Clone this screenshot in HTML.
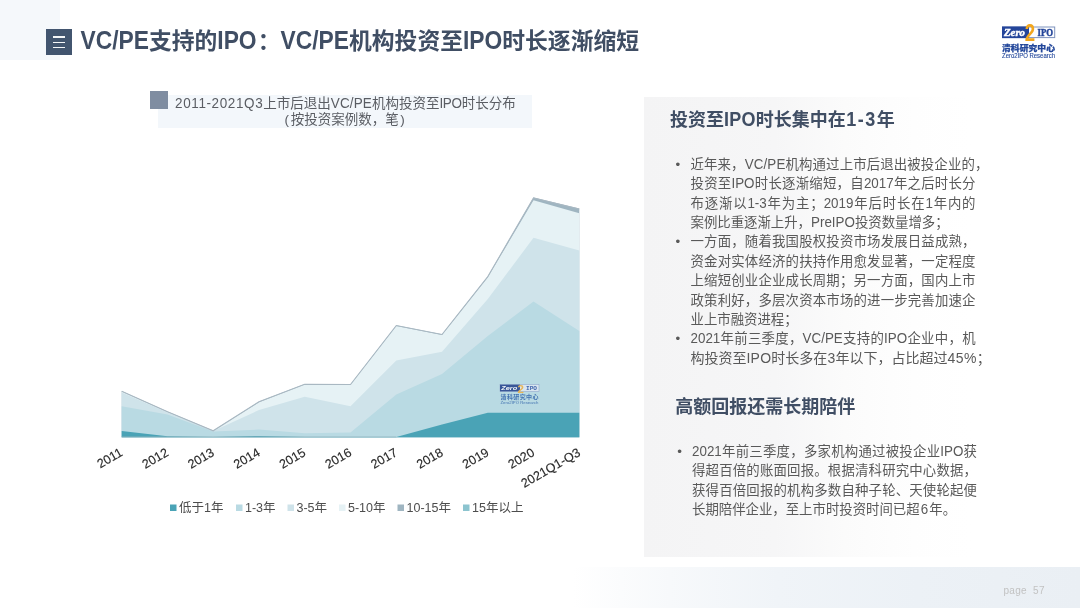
<!DOCTYPE html>
<html lang="zh-CN">
<head>
<meta charset="utf-8">
<title>VC/PE支持的IPO</title>
<style>
html,body{margin:0;padding:0;background:#fff;}
body{width:1080px;height:608px;position:relative;overflow:hidden;font-family:"Liberation Sans","Noto Sans CJK SC",sans-serif;}
.abs{position:absolute;}
#corner{left:0;top:0;width:59.5px;height:59.5px;background:#f5f8fb;}
#ticon{left:45.6px;top:29.2px;width:26px;height:26px;background:#42556f;}
#ticon i{position:absolute;left:7.2px;width:12px;height:1.5px;background:#f4f6f8;}
#title{left:80.5px;top:23.2px;height:36px;line-height:36px;font-size:22.8px;font-weight:bold;color:#404e64;white-space:nowrap;}
#ctband{left:158.3px;top:94.6px;width:373.5px;height:33px;background:#f3f7fb;}
#ctsq{left:150px;top:91px;width:18px;height:17.5px;background:#7f8da1;}
.ct{font-size:13.5px;color:#5a5d63;white-space:nowrap;line-height:18px;height:18px;}
#ct1{left:175.1px;top:94.7px;}
#ct2{left:284.6px;top:110.5px;}
#panel{left:644px;top:97px;width:436px;height:460px;background:linear-gradient(90deg,#f4f4f5 0%,#f6f6f7 30%,#fbfbfb 46%,#fefefe 62%,#ffffff 75%);}
.h2{font-size:18px;font-weight:bold;color:#404e64;white-space:nowrap;line-height:24px;height:24px;left:670px;}
.ln{left:690.5px;width:285px;font-size:13.4px;color:#595959;line-height:19.4px;height:19.4px;white-space:nowrap;text-align:justify;text-align-last:justify;}
.ln.l{text-align:left;text-align-last:left;width:auto;}
.bu{left:675.6px;font-size:13.4px;color:#595959;line-height:19.4px;height:19.4px;}
#footer{left:0;top:567px;width:1080px;height:41px;background:linear-gradient(90deg,#ffffff 0%,#ffffff 53%,#f7f9fb 62%,#f0f4f8 72%,#ecf1f6 85%,#eaeff4 100%);}
#pg{left:1003.5px;top:584.3px;font-size:10px;color:#c2c2c2;line-height:14px;white-space:pre;letter-spacing:0.3px;}
.L{display:inline-block;line-height:1;transform:scaleY(1.09);transform-origin:0 84.65%;}
</style>
</head>
<body>
<div id="corner" class="abs"></div>
<div id="footer" class="abs"></div>
<div id="panel" class="abs"></div>
<svg class="abs" id="logo" style="left:996px;top:20px" width="66" height="44" viewBox="0 0 66 44">
<rect x="6.5" y="7" width="52.2" height="10.6" fill="#fcfdfe" stroke="#7f93bd" stroke-width="1"/>
<rect x="6" y="6.5" width="27" height="11.6" fill="#24459a"/>
<text x="8" y="15.7" font-family="'Liberation Serif',serif" font-size="10" font-weight="bold" font-style="italic" fill="#ffffff" stroke="#ffffff" stroke-width="0.45" textLength="21" lengthAdjust="spacingAndGlyphs">Zero</text>
<text x="28.8" y="21.1" font-family="'Liberation Sans',sans-serif" font-size="23.5" font-weight="bold" fill="#f2a61e" textLength="10.4" lengthAdjust="spacingAndGlyphs">2</text>
<text x="41.6" y="15.5" font-family="'Liberation Serif',serif" font-size="9.6" font-weight="bold" fill="#24459a" stroke="#24459a" stroke-width="0.4" textLength="15.6" lengthAdjust="spacingAndGlyphs">IPO</text>
<text x="6" y="30.6" font-family="'Liberation Sans','Noto Sans CJK SC',sans-serif" font-size="7.7" font-weight="900" fill="#24489b" stroke="#24489b" stroke-width="0.25" textLength="53" lengthAdjust="spacingAndGlyphs">清科研究中心</text>
<text x="6" y="38" font-family="'Liberation Sans',sans-serif" font-size="6.9" fill="#24489b" stroke="#24489b" stroke-width="0.12" textLength="53" lengthAdjust="spacingAndGlyphs">Zero2IPO Research</text>
</svg>
<div id="ticon" class="abs"><i style="top:7.3px"></i><i style="top:12.4px"></i><i style="top:17.6px"></i></div>
<div id="title" class="abs"><span class="L">VC/PE</span>支持的<span class="L">IPO</span><span style="position:relative;left:1.1px">：</span><span class="L" style="margin-left:1.2px">VC/PE</span>机构投资至<span class="L">IPO</span>时长逐渐缩短</div>

<div id="ctband" class="abs"></div>
<div id="ctsq" class="abs"></div>
<div id="ct1" class="abs ct"><span class="L" style="letter-spacing:0.6px">2011-2021Q3</span>上市后退出<span class="L" style="letter-spacing:0.12px">VC/PE</span>机构投资至<span class="L" style="letter-spacing:-0.3px">IPO</span>时长分布</div>
<div id="ct2" class="abs ct"><span style="margin-right:1.6px">(</span>按投资案例数，笔<span style="margin-left:1.6px">)</span></div>

<!--CHART_START-->
<svg class="abs" id="chart" style="left:0;top:0" width="1080" height="608" viewBox="0 0 1080 608">
<polygon points="121.7,391.0 167.5,411.5 213.2,430.5 259.0,401.5 304.7,384.0 350.5,384.2 396.3,325.2 442.0,334.2 487.8,276.3 533.5,197.6 579.3,208.6 579.3,437.3 533.5,437.3 487.8,437.3 442.0,437.3 396.3,437.3 350.5,437.3 304.7,437.3 259.0,437.3 213.2,437.3 167.5,437.3 121.7,437.3" fill="#9fb5c1"/>
<polygon points="121.7,391.6 167.5,412.0 213.2,430.8 259.0,402.3 304.7,384.6 350.5,384.8 396.3,326.0 442.0,335.0 487.8,277.3 533.5,200.3 579.3,213.2 579.3,437.3 533.5,437.3 487.8,437.3 442.0,437.3 396.3,437.3 350.5,437.3 304.7,437.3 259.0,437.3 213.2,437.3 167.5,437.3 121.7,437.3" fill="#e6f2f5"/>
<polygon points="121.7,392.5 167.5,412.5 213.2,431.0 259.0,410.0 304.7,396.7 350.5,406.2 396.3,360.4 442.0,351.8 487.8,299.0 533.5,237.8 579.3,250.4 579.3,437.3 533.5,437.3 487.8,437.3 442.0,437.3 396.3,437.3 350.5,437.3 304.7,437.3 259.0,437.3 213.2,437.3 167.5,437.3 121.7,437.3" fill="#cfe3ea"/>
<polygon points="121.7,406.3 167.5,414.5 213.2,431.5 259.0,429.6 304.7,433.3 350.5,432.6 396.3,394.5 442.0,374.0 487.8,336.0 533.5,301.5 579.3,331.0 579.3,437.3 533.5,437.3 487.8,437.3 442.0,437.3 396.3,437.3 350.5,437.3 304.7,437.3 259.0,437.3 213.2,437.3 167.5,437.3 121.7,437.3" fill="#b9dae3"/>
<polygon points="121.7,431.0 167.5,436.3 213.2,437.0 259.0,436.0 304.7,437.0 350.5,437.0 396.3,437.0 442.0,424.5 487.8,412.8 533.5,412.8 579.3,412.8 579.3,437.3 533.5,437.3 487.8,437.3 442.0,437.3 396.3,437.3 350.5,437.3 304.7,437.3 259.0,437.3 213.2,437.3 167.5,437.3 121.7,437.3" fill="#4aa3b6"/>
<polyline fill="none" stroke="#a9b8c2" stroke-width="1.05" stroke-linejoin="miter" points="121.7,391.3 167.5,411.8 213.2,430.8 259.0,401.8 304.7,384.3 350.5,384.5 396.3,325.5 442.0,334.5 487.8,276.6 533.5,197.9 579.3,208.9"/>
<line x1="121.7" x2="396.26" y1="436.90000000000003" y2="436.90000000000003" stroke="#8fb3bd" stroke-width="0.9" opacity="0.8"/>
<g id="wm" transform="translate(500,383)" opacity="0.85">
<rect x="0" y="1.6" width="39" height="6.8" fill="#dfe8f2" stroke="#8ea0c8" stroke-width="0.6"/>
<rect x="0" y="1.6" width="20" height="6.8" fill="#223f8c"/>
<text x="1.2" y="7.2" font-family="'Liberation Sans',sans-serif" font-size="6" font-weight="bold" font-style="italic" fill="#fff" textLength="16" lengthAdjust="spacingAndGlyphs">Zero</text>
<text x="17.5" y="9.6" font-family="'Liberation Sans',sans-serif" font-size="11.5" font-weight="bold" fill="#f0b040">2</text>
<text x="26" y="7.2" font-family="'Liberation Mono',monospace" font-size="5.8" font-weight="bold" fill="#2b4fa3" textLength="11" lengthAdjust="spacingAndGlyphs">IPO</text>
<text x="0.5" y="16.2" font-family="'Liberation Sans','Noto Sans CJK SC',sans-serif" font-size="6" font-weight="bold" fill="#2b5fa8" textLength="38">清科研究中心</text>
<text x="0.5" y="21" font-family="'Liberation Sans',sans-serif" font-size="3.6" fill="#2b5fa8" textLength="38" lengthAdjust="spacingAndGlyphs">Zero2IPO Research</text>
</g>
<g font-family="'Liberation Sans',sans-serif" font-size="12.6" fill="#2b2b2b" stroke="#2b2b2b" stroke-width="0.15" text-anchor="end">
<text transform="translate(123.7,455.0) rotate(-30)">2011</text>
<text transform="translate(169.5,455.0) rotate(-30)">2012</text>
<text transform="translate(215.2,455.0) rotate(-30)">2013</text>
<text transform="translate(261.0,455.0) rotate(-30)">2014</text>
<text transform="translate(306.7,455.0) rotate(-30)">2015</text>
<text transform="translate(352.5,455.0) rotate(-30)">2016</text>
<text transform="translate(398.3,455.0) rotate(-30)">2017</text>
<text transform="translate(444.0,455.0) rotate(-30)">2018</text>
<text transform="translate(489.8,455.0) rotate(-30)">2019</text>
<text transform="translate(535.5,455.0) rotate(-30)">2020</text>
<text transform="translate(581.3,455.0) rotate(-30)">2021Q1-Q3</text>
</g>
<g font-family="'Liberation Sans','Noto Sans CJK SC',sans-serif" font-size="12.5" fill="#4d4d4d">
<rect x="170" y="504.5" width="6.5" height="6.5" fill="#4aa3b6"/><text x="179" y="512.3">低于1年</text>
<rect x="236" y="504.5" width="6.5" height="6.5" fill="#b9dae3"/><text x="245" y="512.3">1-3年</text>
<rect x="287.5" y="504.5" width="6.5" height="6.5" fill="#cfe3ea"/><text x="296.5" y="512.3">3-5年</text>
<rect x="339" y="504.5" width="6.5" height="6.5" fill="#e6f2f5"/><text x="348" y="512.3">5-10年</text>
<rect x="397.5" y="504.5" width="6.5" height="6.5" fill="#9fb5c1"/><text x="406.5" y="512.3">10-15年</text>
<rect x="463" y="504.5" width="6.5" height="6.5" fill="#8cc4cf"/><text x="472" y="512.3">15年以上</text>
</g>
</svg>
<!--CHART_END-->

<div class="abs h2" style="top:107.5px">投资至<span class="L" style="letter-spacing:0.25px">IPO</span>时长集中在<span class="L" style="letter-spacing:1.5px;margin-left:0.5px">1-3</span>年</div>
<div class="abs bu" style="top:154.8px">•</div>
<div class="abs ln" style="top:154.8px;letter-spacing:0.14px">近年来，<span class="L">VC/PE</span>机构通过上市后退出被投企业的，</div>
<div class="abs ln" style="top:174.2px">投资至<span class="L">IPO</span>时长逐渐缩短，自<span class="L">2017</span>年之后时长分</div>
<div class="abs ln" style="top:193.6px">布逐渐以<span class="L">1-3</span>年为主；<span class="L">2019</span>年后时长在<span class="L">1</span>年内的</div>
<div class="abs ln l" style="top:213.0px">案例比重逐渐上升，<span class="L">PreIPO</span>投资数量增多；</div>
<div class="abs bu" style="top:232.4px">•</div>
<div class="abs ln" style="top:232.4px">一方面，随着我国股权投资市场发展日益成熟，</div>
<div class="abs ln" style="top:251.8px">资金对实体经济的扶持作用愈发显著，一定程度</div>
<div class="abs ln" style="top:271.2px">上缩短创业企业成长周期；另一方面，国内上市</div>
<div class="abs ln" style="top:290.6px">政策利好，多层次资本市场的进一步完善加速企</div>
<div class="abs ln l" style="top:310.0px">业上市融资进程；</div>
<div class="abs bu" style="top:329.4px">•</div>
<div class="abs ln" style="top:329.4px"><span class="L">2021</span>年前三季度，<span class="L">VC/PE</span>支持的<span class="L">IPO</span>企业中，机</div>
<div class="abs ln l" style="top:348.8px;font-size:14px">构投资至<span class="L" style="letter-spacing:0.2px">IPO</span>时长多在<span class="L" style="margin:0 0.3px">3</span>年以下，占比超过<span class="L" style="letter-spacing:0.4px">45%</span>；</div>

<div class="abs h2" style="top:394.8px;left:675.3px">高额回报还需长期陪伴</div>
<div class="abs bu" style="top:441.8px;left:677.3px">•</div>
<div class="abs ln" style="top:441.8px;left:692px"><span class="L">2021</span>年前三季度，多家机构通过被投企业<span class="L">IPO</span>获</div>
<div class="abs ln" style="top:461.2px;left:692px">得超百倍的账面回报。根据清科研究中心数据，</div>
<div class="abs ln" style="top:480.6px;left:692px">获得百倍回报的机构多数自种子轮、天使轮起便</div>
<div class="abs ln l" style="top:500.0px;left:692px">长期陪伴企业，至上市时投资时间已超<span class="L" style="margin:0 1.1px">6</span>年。</div>

<div id="pg" class="abs">page  57</div>
</body>
</html>
